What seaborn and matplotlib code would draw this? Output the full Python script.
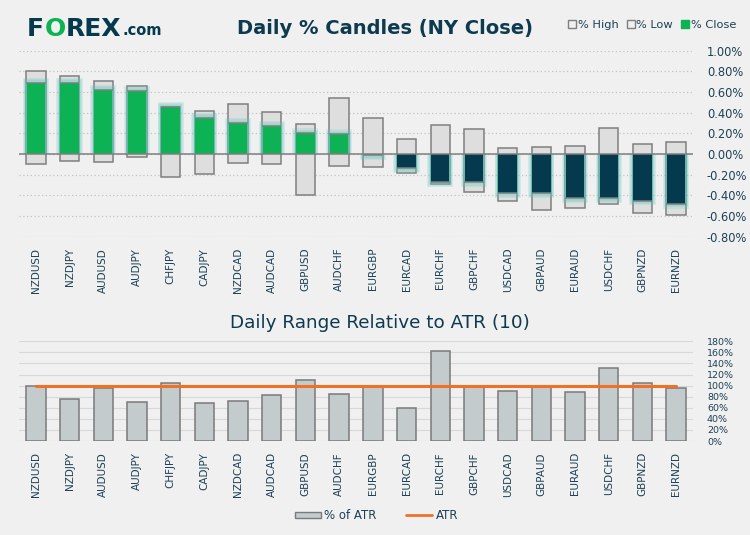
import numpy as np
import pandas as pd
import matplotlib
matplotlib.use("Agg")
import matplotlib.pyplot as plt
import seaborn as sns
from matplotlib.patches import Patch
from matplotlib.lines import Line2D
from matplotlib.ticker import FuncFormatter, MultipleLocator

# currency pairs, in chart order
pairs = ["NZDUSD", "NZDJPY", "AUDUSD", "AUDJPY", "CHFJPY", "CADJPY", "NZDCAD",
         "AUDCAD", "GBPUSD", "AUDCHF", "EURGBP", "EURCAD", "EURCHF", "GBPCHF",
         "USDCAD", "GBPAUD", "EURAUD", "USDCHF", "GBPNZD", "EURNZD"]

# daily % high / low / close (NY close)
pct_high = [0.80, 0.76, 0.71, 0.66, 0.46, 0.415, 0.48, 0.405, 0.29, 0.54,
            0.35, 0.145, 0.28, 0.24, 0.058, 0.068, 0.077, 0.25, 0.097, 0.116]
pct_low = [-0.10, -0.07, -0.08, -0.026, -0.22, -0.19, -0.087, -0.097, -0.40, -0.116,
           -0.125, -0.18, -0.29, -0.37, -0.45, -0.54, -0.52, -0.48, -0.57, -0.59]
pct_close = [0.69, 0.69, 0.62, 0.61, 0.46, 0.35, 0.30, 0.27, 0.20, 0.19,
             -0.01, -0.14, -0.27, -0.27, -0.376, -0.38, -0.43, -0.43, -0.45, -0.48]

# daily range as % of ATR(10)
pct_atr = [99, 75, 95, 70, 104, 68, 72, 82.5, 110, 84,
           99, 59, 162, 97, 90, 99.5, 88, 131, 104, 95]
atr_level = 100

BG = "#f0f0f0"
NAVY = "#053a4e"
GREEN = "#0cb253"
TXT = "#1c4155"
GLOW = "#5ec9bf"
ORANGE = "#f07126"

sns.set_theme(style="white")
plt.rcParams["font.family"] = ["DejaVu Sans"]

df = pd.DataFrame({"pair": pairs, "high": pct_high, "low": pct_low, "close": pct_close,
                   "atr": pct_atr})
df["rng"] = df["high"] - df["low"]
df["col"] = np.where(df["close"] >= 0, GREEN, NAVY)

fig = plt.figure(figsize=(7.5, 5.35), dpi=100, facecolor=BG)
ax1 = fig.add_axes([0.0253, 0.5576, 0.8987, 0.3476], facecolor=BG)
ax2 = fig.add_axes([0.0253, 0.1757, 0.8987, 0.1863], facecolor=BG)

W = 0.575

# ---- top chart: candles ----
sns.barplot(data=df, x="pair", y="rng", bottom=df["low"].values, color="#dedede",
            edgecolor="#7f7f7f", linewidth=1.1, width=W, saturation=1, ax=ax1, zorder=2)

# glow behind the close bars
for k in range(4, 0, -1):
    ext = 0.012 * k
    glow_h = df["close"] + np.sign(df["close"]) * ext
    sns.barplot(x=df["pair"], y=glow_h, color=GLOW, alpha=0.18, width=W + 0.05 * k,
                saturation=1, linewidth=0, ax=ax1, zorder=3)

sns.barplot(data=df, x="pair", y="close", hue="pair", palette=list(df["col"]),
            legend=False, width=W - 0.03, saturation=1, linewidth=0, ax=ax1, zorder=4)
# close level marker
ax1.hlines(df["close"], np.arange(len(df)) - W / 2, np.arange(len(df)) + W / 2,
           color="#7f7f7f", lw=1.1, zorder=5)
ax1.axhline(0, color="#7f7f7f", lw=1.1, zorder=6)

ax1.set_ylim(-0.8, 1.0)
ax1.set_xlim(-0.5, len(df) - 0.5)
ax1.yaxis.set_major_locator(MultipleLocator(0.2))
ax1.grid(axis="y", color="#c4c4c4", linestyle=(0, (1, 2)), lw=0.9, zorder=0)
ax1.set_axisbelow(True)
ax1.yaxis.tick_right()
ax1.yaxis.set_major_formatter(FuncFormatter(lambda v, p: f"{v:.2f}%"))
ax1.tick_params(axis="y", length=0, pad=10, labelsize=8.3, labelcolor=TXT)
ax1.tick_params(axis="x", length=0, pad=8, labelsize=7.5, labelcolor=TXT, rotation=90)
ax1.set_xlabel("")
ax1.set_ylabel("")
for s in ax1.spines.values():
    s.set_visible(False)

# ---- bottom chart: range vs ATR ----
sns.barplot(data=df, x="pair", y="atr", color="#c3cbcd", edgecolor="#7a7a7a",
            linewidth=1.1, width=W, saturation=1, ax=ax2, zorder=3)
sns.lineplot(x=np.arange(len(df)), y=[atr_level] * len(df), color=ORANGE, lw=2.2,
             ax=ax2, zorder=5)
ax2.set_ylim(0, 180)
ax2.set_xlim(-0.5, len(df) - 0.5)
ax2.yaxis.set_major_locator(MultipleLocator(20))
ax2.grid(axis="y", color="#d8d8d8", lw=0.8, zorder=0)
ax2.set_axisbelow(True)
ax2.yaxis.tick_right()
ax2.yaxis.set_major_formatter(FuncFormatter(lambda v, p: f"{v:.0f}%"))
ax2.tick_params(axis="y", length=0, pad=10, labelsize=6.8, labelcolor=TXT)
ax2.tick_params(axis="x", length=0, pad=8, labelsize=7.5, labelcolor=TXT, rotation=90)
ax2.set_xticks(range(len(df)))
ax2.set_xticklabels(pairs)
ax2.set_xlabel("")
ax2.set_ylabel("")
for s in ax2.spines.values():
    s.set_visible(False)

# ---- titles and logo ----
fig.text(0.513, 0.947, "Daily % Candles (NY Close)", ha="center", va="center",
         fontsize=14, fontweight="bold", color="#0d3a4e")
fig.text(0.507, 0.396, "Daily Range Relative to ATR (10)", ha="center", va="center",
         fontsize=13.2, color="#0d3a4e")

# logo pieces laid out one after another
renderer = fig.canvas.get_renderer()
x_px = 27
for piece, col, fs, dy in [("F", NAVY, 18, 0), ("O", GREEN, 18, 0),
                           ("REX", NAVY, 18, 0), (".com", NAVY, 10.5, -1.5)]:
    t = fig.text(x_px / 750, 1 - (29 - dy) / 535, piece, fontsize=fs,
                 fontweight="heavy", color=col, va="center")
    bb = t.get_window_extent(renderer)
    x_px += bb.width + 0.5

# ---- legends ----
top_handles = [Patch(facecolor=BG, edgecolor="#7f7f7f", label="% High"),
               Patch(facecolor=BG, edgecolor="#7f7f7f", label="% Low"),
               Patch(facecolor=GREEN, edgecolor=GREEN, label="% Close")]
fig.legend(handles=top_handles, loc="center right", bbox_to_anchor=(0.995, 0.953),
           ncol=3, frameon=False, fontsize=8.2, handlelength=0.7, handleheight=0.7,
           handletextpad=0.15, columnspacing=0.7, labelcolor=TXT)

bot_handles = [Patch(facecolor="#c3cbcd", edgecolor="#7a7a7a", label="% of ATR"),
               Line2D([0], [0], color=ORANGE, lw=2, label="ATR")]
fig.legend(handles=bot_handles, loc="center", bbox_to_anchor=(0.502, 0.036),
           ncol=2, frameon=False, fontsize=8.5, handlelength=2.2, handleheight=0.5,
           handletextpad=0.3, columnspacing=2.5, labelcolor=TXT)

fig.savefig("out.png", dpi=100, facecolor=BG)
